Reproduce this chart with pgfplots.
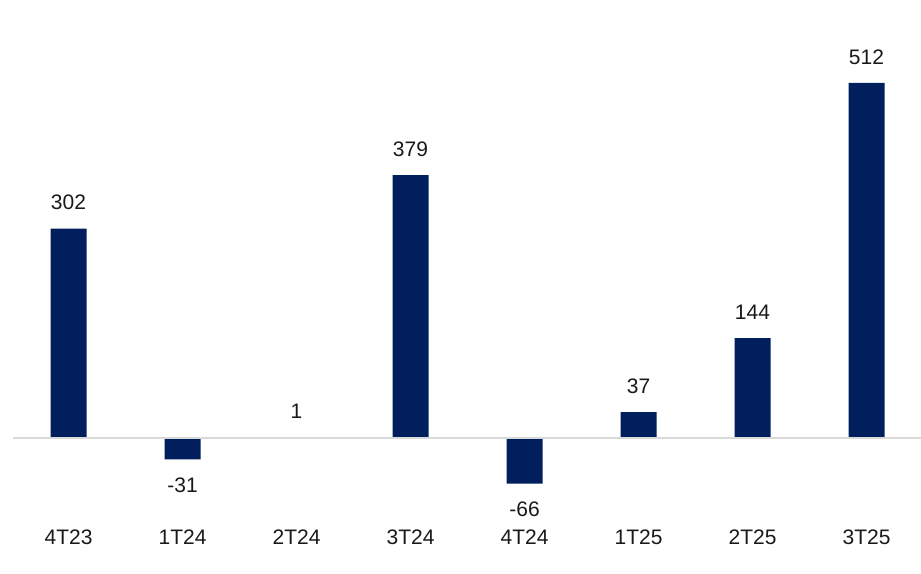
\documentclass[border=0pt]{standalone}
\usepackage{fontspec}
\setmainfont{Liberation Sans}
\usepackage{pgfplots}
\pgfplotsset{compat=1.18}
\definecolor{navy}{HTML}{001F5C}
\definecolor{zeroline}{HTML}{D9D9D9}
\begin{document}%
\fontsize{21}{25}\selectfont%
\begin{tikzpicture}[x=1pt,y=1pt]
\useasboundingbox (0,0) rectangle (921,573);
\begin{axis}[
  at={(11,81)}, anchor=south west,
  scale only axis, width=908pt, height=515pt,
  xmin=-0.491, xmax=7.474,
  ymin=-114, ymax=629,
  clip=false,
  axis line style={draw=none},
  major tick length=0pt,
  ytick=\empty,
  xtick={0,1,2,3,4,5,6,7},
  xticklabels={4T23,1T24,2T24,3T24,4T24,1T25,2T25,3T25},
  xticklabel style={font=\fontsize{21}{25}\selectfont, yshift=-6pt, text=black!90},
  /pgf/number format/assume math mode=true,
  ybar, bar width=36pt,
  nodes near coords,
  every node near coord/.append style={font=\fontsize{21}{25}\selectfont, inner ysep=18.5pt, text=black!90},
]
\addplot[fill=navy, draw=none] coordinates {(0,302) (1,-31) (2,1) (3,379) (4,-66) (5,37) (6,144) (7,512)};
\draw[zeroline, line width=2pt] (axis cs:-0.491,0) -- (axis cs:7.474,0);
\end{axis}
\end{tikzpicture}%
\end{document}
